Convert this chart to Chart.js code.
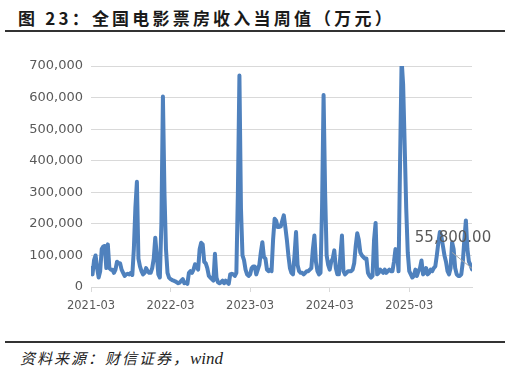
<!DOCTYPE html>
<html>
<head>
<meta charset="utf-8">
<script src="https://cdn.jsdelivr.net/npm/chart.js@4.4.1/dist/chart.umd.min.js"></script>
<style>
    body { margin: 0; background: #fff; }
    #page { position: relative; width: 511px; height: 374px; overflow: hidden; }
    #title {
        position: absolute; left: 18px; top: 5px;
        font-family: "Noto Sans CJK SC", sans-serif; font-weight: 700;
        font-size: 17px; letter-spacing: 3.2px; color: #1a1a1a; white-space: nowrap;
    }
    .rule { position: absolute; left: 5px; width: 500px; background: #333; }
    #source {
        position: absolute; left: 20px; top: 347px;
        font-family: "Liberation Serif", "Noto Sans CJK SC", serif; font-style: italic;
        font-size: 15px; letter-spacing: 2px; color: #222; white-space: nowrap;
    }
    #source span { letter-spacing: 0; font-size: 17px; }
    #box { position: absolute; left: 0; top: 36px; width: 511px; height: 300px; }
</style>
</head>
<body>
<div id="page">
    <div id="title">图 23：全国电影票房收入当周值（万元）</div>
    <div class="rule" style="top:30px;height:2px;"></div>
    <div id="box"><canvas id="lineChart"></canvas></div>
    <div class="rule" style="top:341px;height:2px;"></div>
    <div id="source">资料来源：财信证券，<span>wind</span></div>
</div>
<script>
// weekly box office, 万元, from 2021-03 onwards
const weeklyValues = [
    60000, 40000, 85000, 100000, 60000, 30000, 50000, 120000, 128000, 130000,
    60000, 135000, 60000, 55000, 55000, 45000, 55000, 80000, 75000, 75000,
    55000, 45000, 35000, 40000, 42000, 40000, 45000, 38000, 120000, 250000,
    333000, 90000, 65000, 50000, 40000, 45000, 60000, 50000, 45000, 45000,
    60000, 90000, 156000, 100000, 40000, 30000, 200000, 603000, 300000, 120000,
    45000, 30000, 25000, 22000, 20000, 18000, 15000, 12000, 14000, 20000,
    25000, 12000, 15000, 10000, 45000, 50000, 45000, 55000, 72000, 68000,
    55000, 120000, 140000, 135000, 80000, 75000, 60000, 35000, 30000, 25000,
    20000, 105000, 30000, 15000, 12000, 15000, 20000, 12000, 20000, 15000,
    10000, 40000, 42000, 40000, 35000, 45000, 300000, 670000, 250000, 100000,
    85000, 55000, 40000, 35000, 40000, 60000, 65000, 65000, 40000, 55000,
    70000, 110000, 142000, 95000, 90000, 55000, 50000, 55000, 50000, 150000,
    216000, 210000, 190000, 190000, 192000, 210000, 227000, 190000, 150000, 100000,
    60000, 45000, 40000, 100000, 174000, 70000, 50000, 45000, 45000, 40000,
    45000, 50000, 50000, 55000, 60000, 120000, 163000, 80000, 50000, 40000,
    45000, 250000, 608000, 300000, 100000, 70000, 55000, 80000, 90000, 116000,
    60000, 40000, 40000, 100000, 163000, 50000, 40000, 45000, 50000, 50000,
    50000, 55000, 75000, 130000, 170000, 150000, 110000, 100000, 95000, 90000,
    90000, 45000, 35000, 30000, 35000, 150000, 203000, 40000, 45000, 55000,
    50000, 45000, 55000, 45000, 50000, 55000, 50000, 50000, 80000, 120000,
    110000, 50000, 400000, 720000, 640000, 450000, 250000, 110000, 50000, 40000,
    30000, 35000, 55000, 35000, 50000, 60000, 84000, 40000, 45000, 60000,
    40000, 45000, 55000, 50000, 60000, 65000, 100000, 140000, 174000, 160000,
    130000, 100000, 80000, 50000, 40000, 60000, 142000, 120000, 60000, 40000,
    35000, 35000, 40000, 80000, 150000, 211000, 120000, 80000, 70000, 55800
];
const xTickLabels = ['2021-03', '2022-03', '2023-03', '2024-03', '2025-03'];
const xTickWeeks = [0, 52, 104, 156, 208];
const lastLabel = '55,800.00';

const points = weeklyValues.map((v, i) => ({ x: i, y: v }));

const lastValueLabel = {
    id: 'lastValueLabel',
    afterDatasetsDraw(chart) {
        const meta = chart.getDatasetMeta(0);
        const pt = meta.data[meta.data.length - 1];
        const ctx = chart.ctx;
        ctx.save();
        ctx.strokeStyle = '#a6a6a6';
        ctx.lineWidth = 1;
        ctx.beginPath();
        ctx.moveTo(pt.x - 20, pt.y - 17);
        ctx.lineTo(pt.x, pt.y - 1);
        ctx.stroke();
        ctx.fillStyle = '#595959';
        ctx.font = '15px "DejaVu Sans", sans-serif';
        ctx.textAlign = 'center';
        ctx.textBaseline = 'middle';
        ctx.fillText(lastLabel, pt.x - 19, pt.y - 31);
        ctx.restore();
    }
};

new Chart(document.getElementById('lineChart').getContext('2d'), {
    type: 'line',
    data: {
        datasets: [{
            data: points,
            borderColor: '#4f81bd',
            borderWidth: 4,
            borderJoinStyle: 'round',
            borderCapStyle: 'round',
            pointRadius: 0,
            tension: 0,
            fill: false
        }]
    },
    options: {
        responsive: true,
        maintainAspectRatio: false,
        animation: false,
        layout: { padding: { left: 0, right: 39, top: 30, bottom: 0 } },
        plugins: {
            legend: { display: false },
            tooltip: { enabled: false }
        },
        scales: {
            x: {
                type: 'linear',
                min: 0,
                max: weeklyValues.length - 1,
                afterBuildTicks: axis => {
                    axis.ticks = xTickWeeks.map(v => ({ value: v }));
                },
                afterFit: s => { s.height = 49; },
                grid: {
                    drawOnChartArea: false,
                    drawTicks: true,
                    tickLength: 5,
                    color: '#d9d9d9'
                },
                border: { color: '#d9d9d9' },
                ticks: {
                    autoSkip: false,
                    maxRotation: 0,
                    padding: 7,
                    color: '#595959',
                    font: { family: '"DejaVu Sans", sans-serif', size: 11.5 },
                    callback: v => xTickLabels[xTickWeeks.indexOf(v)]
                }
            },
            y: {
                min: 0,
                max: 700000,
                afterFit: s => { s.width = 91; },
                grid: { color: '#d9d9d9', drawTicks: false },
                border: { display: false },
                ticks: {
                    stepSize: 100000,
                    padding: 8,
                    color: '#595959',
                    font: { family: '"DejaVu Sans", sans-serif', size: 13 },
                    callback: v => v.toLocaleString('en-US')
                }
            }
        }
    },
    plugins: [lastValueLabel]
});
</script>
</body>
</html>
